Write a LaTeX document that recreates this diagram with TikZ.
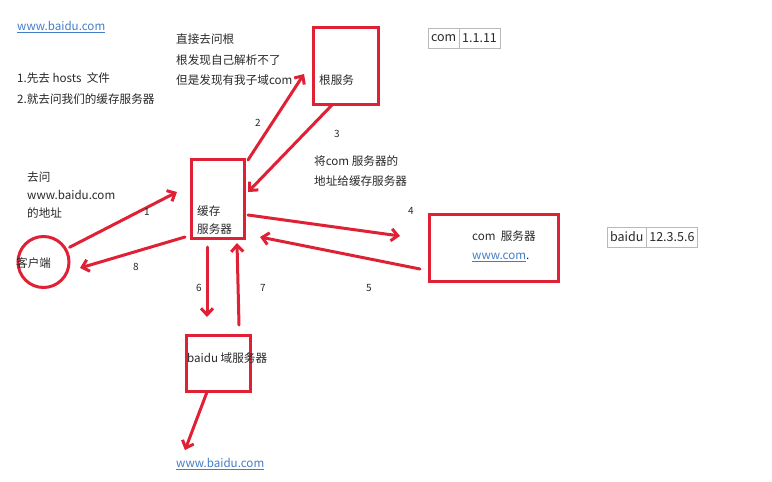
\documentclass[tikz,border=0pt]{standalone}
\usepackage{fontspec}
\setmainfont{Noto Sans CJK SC}
\usetikzlibrary{positioning, arrows.meta}
\definecolor{boxred}{RGB}{224,32,52}
\definecolor{linkblue}{RGB}{66,125,199}
\definecolor{textgray}{RGB}{40,40,40}
\tikzset{
redline/.style={draw=boxred, line width=3pt}, % thick red pen strokes
redbox/.style={redline, rectangle, inner sep=0pt, outer sep=0pt}, % the red frames
flow/.style={redline, line cap=round, -{Straight Barb[length=6.5pt,width=12pt]}}, % the numbered arrows
note/.style={font=\fontsize{11.6}{20.5}\selectfont, text=textgray, align=left, anchor=west, inner sep=0pt}, % plain texts
link/.style={note, text=linkblue}, % blue underlined addresses
num/.style={font=\fontsize{10}{12}\selectfont, text=textgray, inner sep=0pt}, % arrow numbers
cell/.style={draw=gray!55, line width=0.8pt, font=\fontsize{12.5}{14}\selectfont, text=textgray, inner xsep=3pt, minimum height=20pt, outer sep=0pt}, % table cells
}
\begin{document}
\begin{tikzpicture}[x=1pt, y=-1pt]
\useasboundingbox (0,0) rectangle (772,482);
% servers and client
\node[redbox, minimum width=65pt, minimum height=77pt] (root) at (345.5,65.5) {};
\node[note] (roottext) at (319,80) {根服务};
\node[redbox, minimum width=53pt, minimum height=79pt] (cache) at (217.5,198.5) {};
\node[note, font=\fontsize{11.6}{18}\selectfont] (cachetext) at (197,220) {缓存\\服务器};
\node[redbox, minimum width=129pt, minimum height=67pt] (com) at (493.5,247.5) {};
\node[note, font=\fontsize{11.6}{19}\selectfont] (comtext) at (472,246.5) {com\ \ 服务器\\{\color{linkblue}\underline{www.com}}.};
\node[redbox, minimum width=64pt, minimum height=56pt] (baidu) at (218,363) {};
\node[note] (baidutext) at (187,358) {baidu 域服务器};
\node[redline, circle, minimum size=51pt, inner sep=0pt, outer sep=0pt] (client) at (43.5,262) {};
\node[note] (clienttext) at (16,263) {客户端};
% notes
\node[link] (toplink) at (17,27) {\underline{www.baidu.com}};
\node[note, font=\fontsize{11.6}{21}\selectfont] (steps) at (17,88.5) {1.先去 hosts\ \ 文件\\2.就去问我们的缓存服务器};
\node[note] (asktext) at (176,60) {直接去问根\\根发现自己解析不了\\但是发现有我子域com};
\node[note] (replytext) at (314,171) {将com 服务器的\\地址给缓存服务器};
\node[note, font=\fontsize{11.6}{18}\selectfont] (question) at (27,195) {去问\\www.baidu.com\\的地址};
\node[link] (bottomlink) at (176,464) {\underline{www.baidu.com}};
% lookup tables
\node[cell, anchor=west] (comkey) at (428,38) {com};
\node[cell, right=0pt of comkey] (comip) {1.1.11};
\node[cell, anchor=west] (baidukey) at (607,237) {baidu};
\node[cell, right=0pt of baidukey] (baiduip) {12.3.5.6};
% arrows
\draw[flow] ([shift={(4,-2)}]client.30) -- ([shift={(-14,-6.5)}]cache.west);
\draw[flow] ([shift={(4,1)}]cache.north east) -- ([shift={(-9,8.5)}]root.west);
\draw[flow] ([shift={(-13.5,1)}]root.south) -- ([shift={(4,-6.5)}]cache.east);
\draw[flow] ([shift={(4,16.5)}]cache.east) -- ([shift={(-29,-11.5)}]com.west);
\draw[flow] ([shift={(-9,21.5)}]com.west) -- ([shift={(16,-1)}]cache.south east);
\draw[flow] ([shift={(-10.5,9)}]cache.south) -- ([shift={(-11,-18)}]baidu.north);
\draw[flow] ([shift={(21,-10)}]baidu.north) -- ([shift={(19.5,5)}]cache.south);
\draw[flow] ([shift={(-6,-1)}]cache.south west) -- ([shift={(11,6)}]client.east);
\draw[flow] ([shift={(-11,1)}]baidu.south) -- ([shift={(9,-8)}]bottomlink.north west);
% arrow numbers
\node[num] (n1) at (147,212) {1};
\node[num] (n2) at (258,123) {2};
\node[num] (n3) at (337,134) {3};
\node[num] (n4) at (411,211) {4};
\node[num] (n5) at (369,288) {5};
\node[num] (n6) at (199,288) {6};
\node[num] (n7) at (263,288) {7};
\node[num] (n8) at (136,267) {8};
\end{tikzpicture}
\end{document}
